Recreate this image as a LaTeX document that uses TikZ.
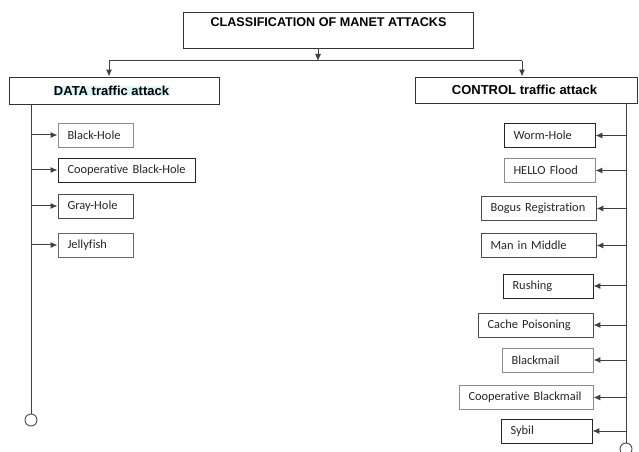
\documentclass[tikz,border=0pt]{standalone}
\usepackage{fontspec}
\setmainfont{Liberation Sans}
\newfontfamily\itemfont[Ligatures=NoCommon]{Carlito}
\usetikzlibrary{arrows.meta}
\definecolor{hilite}{HTML}{DCF6FA}
\begin{document}
\begin{tikzpicture}[x=1bp,y=-1bp,
  conn/.style={draw=black!75, line width=1bp},
  arr/.style={conn, -{Latex[length=7bp,width=6bp]}},
  hbox/.style={rectangle, draw=black!80, line width=0.9bp, inner sep=0},
  hdr/.style={font=\bfseries\fontsize{13bp}{15bp}\selectfont, inner sep=0.6bp, text=black},
  itembox/.style={rectangle, line width=0.9bp, inner xsep=9.5bp, inner ysep=0,
    minimum height=24bp, align=left, text=black!85,
    font=\itemfont\fontsize{12.4bp}{14bp}\selectfont},
  dk/.style={itembox, draw=black!85},
  lt/.style={itembox, draw=black!45},
  endc/.style={circle, draw=black!70, fill=white, minimum size=12bp, inner sep=0, line width=0.9bp}
]
\useasboundingbox (0,0) rectangle (639,452);

% title
\node[hbox, minimum width=290bp, minimum height=36bp] (title) at (328,30) {};
\node[hdr, font=\bfseries\fontsize{12.6bp}{15bp}\selectfont] (titletxt) at (328.5,22.5) {CLASSIFICATION OF MANET ATTACKS};

% headers
\node[hbox, minimum width=210bp, minimum height=27bp] (data) at (114,90.5) {};
\node[hdr, fill=hilite] (datatxt) at (111.5,91) {DATA traffic attack};
\node[hbox, minimum width=222bp, minimum height=26bp] (control) at (526,90) {};
\node[hdr] (controltxt) at (524.5,90) {CONTROL traffic attack};

% top connectors
\coordinate (split) at (318,61);
\coordinate (dl) at (109,61);
\coordinate (dr) at (522,61);
\draw[arr] (title.south -| split) -- (split);
\draw[conn] (dl) -- (dr);
\draw[arr] (dl) -- (dl |- data.north);
\draw[arr] (dr) -- (dr |- control.north);

% left items
\node[lt, text width=56bp] (bh) at (95.5,135) {Black-Hole};
\node[dk, text width=118bp] (cbh) at (126.5,170) {\mbox{Cooperative Black-Hole}};
\node[dk, text width=56bp, draw=black!70] (gh) at (95.5,206) {Gray-Hole};
\node[lt, text width=56bp, draw=black!60] (jf) at (95.5,245) {Jellyfish};

\node[endc] (lc) at (31,420) {};
\draw[conn] (data.south -| lc) -- (lc.north);
\foreach \n in {bh,cbh,gh,jf}
  \draw[arr] (\n.west -| lc) -- (\n.west);

% right items
\node[dk, text width=72bp] (wh) at (549.5,135.5) {Worm-Hole};
\node[lt, text width=72bp] (hf) at (549.5,170.5) {HELLO Flood};
\node[dk, text width=96bp, draw=black!70] (bg) at (538.5,208.5) {\mbox{Bogus Registration}};
\node[dk, text width=96bp, draw=black!70] (mm) at (538.5,245.5) {Man in Middle};
\node[dk, text width=71bp] (ru) at (548,286) {Rushing};
\node[dk, text width=96bp, draw=black!70] (cp) at (535.5,325) {Cache Poisoning};
\node[lt, text width=72bp] (bm) at (547.5,360) {Blackmail};
\node[lt, text width=115bp] (cbm) at (526,397.5) {\mbox{Cooperative Blackmail}};
\node[dk, text width=72bp] (sy) at (546.5,431) {Sybil};

\node[endc] (rc) at (626,449) {};
\draw[conn] (control.south -| rc) -- (rc.north);
\foreach \n in {wh,hf,bg,mm,ru,cp,bm,cbm,sy}
  \draw[arr] (\n.east -| rc) -- (\n.east);
\end{tikzpicture}
\end{document}
